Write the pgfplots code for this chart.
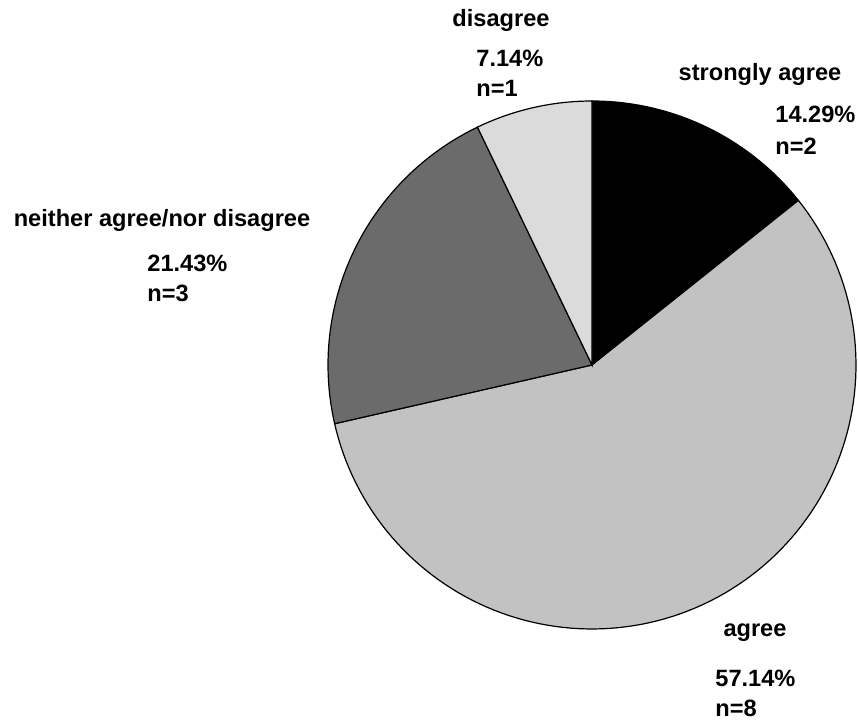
\documentclass[border=0pt]{standalone}
\usepackage{fontspec}
\setmainfont{Liberation Sans}
\usepackage{pgfplots}
\pgfplotsset{compat=1.18}
\definecolor{cSA}{gray}{0.0}
\definecolor{cAG}{gray}{0.76}
\definecolor{cNE}{gray}{0.42}
\definecolor{cDI}{gray}{0.86}
% counts (n) per answer
\def\nSA{2}\def\nAG{8}\def\nNE{3}\def\nDI{1}
\pgfmathsetmacro{\ntot}{\nSA+\nAG+\nNE+\nDI}
\pgfmathsetmacro{\aA}{90}
\pgfmathsetmacro{\aB}{\aA-360*\nSA/\ntot}
\pgfmathsetmacro{\aC}{\aB-360*\nAG/\ntot}
\pgfmathsetmacro{\aD}{\aC-360*\nNE/\ntot}
\pgfmathsetmacro{\aE}{\aD-360*\nDI/\ntot}
\def\R{264}
\tikzset{lab/.style={font=\fontsize{11.8}{14}\selectfont\bfseries, inner sep=0pt}}
\begin{document}
\begin{tikzpicture}
\begin{axis}[
  scale only axis, width=429pt, height=360.5pt,
  xmin=-592, xmax=266, ymin=-356, ymax=365,
  hide axis, clip=false,
]
\path (rel axis cs:0,0) rectangle (rel axis cs:1,1);
\addplot[fill=cSA, draw=black, line width=0.6pt, domain=\aB:\aA, samples=40, variable=\t]
  ({\R*cos(\t)}, {\R*sin(\t)}) -- (axis cs:0,0) -- cycle;
\addplot[fill=cAG, draw=black, line width=0.6pt, domain=\aC:\aB, samples=120, variable=\t]
  ({\R*cos(\t)}, {\R*sin(\t)}) -- (axis cs:0,0) -- cycle;
\addplot[fill=cNE, draw=black, line width=0.6pt, domain=\aD:\aC, samples=50, variable=\t]
  ({\R*cos(\t)}, {\R*sin(\t)}) -- (axis cs:0,0) -- cycle;
\addplot[fill=cDI, draw=black, line width=0.6pt, domain=\aE:\aD, samples=20, variable=\t]
  ({\R*cos(\t)}, {\R*sin(\t)}) -- (axis cs:0,0) -- cycle;

\node[lab, anchor=base] at (axis cs:-91,338) {disagree};
\node[lab, anchor=base west] at (axis cs:-116,298) {7.14\%};
\node[lab, anchor=base west] at (axis cs:-116,268) {n=1};
\node[lab, anchor=base] at (axis cs:168,284) {strongly agree};
\node[lab, anchor=base west] at (axis cs:183,242) {14.29\%};
\node[lab, anchor=base west] at (axis cs:183,210) {n=2};
\node[lab, anchor=base] at (axis cs:-430,138) {neither agree/nor disagree};
\node[lab, anchor=base west] at (axis cs:-445,93) {21.43\%};
\node[lab, anchor=base west] at (axis cs:-445,63) {n=3};
\node[lab, anchor=base] at (axis cs:163,-272) {agree};
\node[lab, anchor=base west] at (axis cs:123,-322) {57.14\%};
\node[lab, anchor=base west] at (axis cs:123,-352) {n=8};
\end{axis}
\end{tikzpicture}
\end{document}
